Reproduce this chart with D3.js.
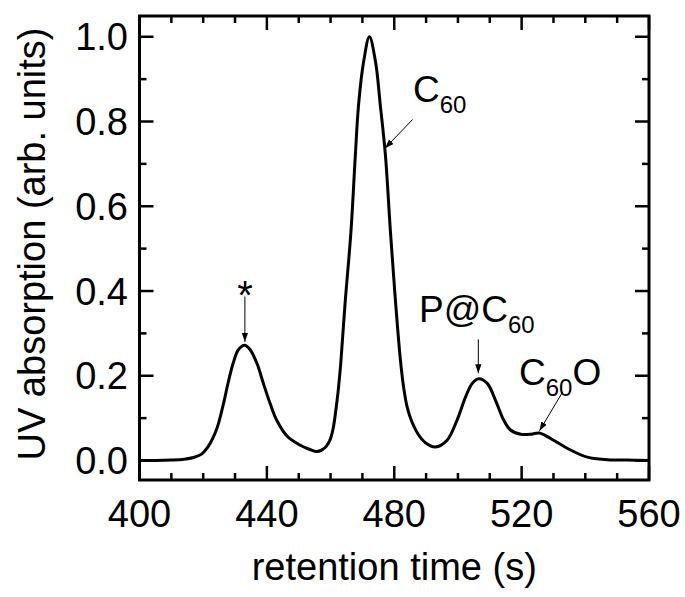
<!DOCTYPE html>
<html>
<head>
<meta charset="utf-8">
<script src="https://cdn.jsdelivr.net/npm/d3@7"></script>
<style>
  body { margin: 0; background: #fff; }
  text { font-family: "Liberation Sans", Arial, Helvetica, sans-serif; fill: #000; }
</style>
</head>
<body>
<div id="chart-area"></div>
<script>
// Chromatogram data
const retentionTime = [400, 405, 410, 414, 417, 419.5, 421.5, 423, 424.5, 426.4, 428, 429.5, 431.1, 433,
    434.7, 436.9, 438.9, 441, 443.1, 446.3, 450.5, 453.5, 455.7, 457.3, 458.7, 459.9, 460.8, 461.6, 462.4,
    463.2, 464.6, 466.4, 467.8, 468.8, 470.4, 472.2, 474.1, 475.6, 477.2, 478.8, 480.3, 481.9, 483, 484,
    485.5, 487.5, 489.8, 492.9, 496.6, 499.7, 502.4, 504.5, 506.5, 509.2, 511.8, 514.4, 516.5, 519.7,
    523, 525.5, 529.1, 534.3, 540.6, 547, 553, 560];
const absorption = [0.000, 0.000, 0.001, 0.003, 0.007, 0.015, 0.032, 0.052, 0.080, 0.135, 0.189, 0.232, 0.262, 0.272,
    0.262, 0.229, 0.182, 0.135, 0.095, 0.058, 0.036, 0.026, 0.021, 0.025, 0.034, 0.050, 0.075, 0.115, 0.165,
    0.229, 0.375, 0.540, 0.723, 0.840, 0.942, 1.000, 0.942, 0.840, 0.723, 0.540, 0.385, 0.240, 0.170, 0.128,
    0.092, 0.062, 0.042, 0.032, 0.048, 0.095, 0.150, 0.182, 0.193, 0.182, 0.142, 0.095, 0.072, 0.062,
    0.062, 0.065, 0.052, 0.029, 0.008, 0.002, 0.001, 0.000];

const xTickLabels = [400, 440, 480, 520, 560];
const yTickLabels = [0.0, 0.2, 0.4, 0.6, 0.8, 1.0];

// peak labels and where their arrows point (data units)
const peakNames = ["C", "*", "P@C", "C"];
const peakSubs = ["60", "", "60", "60"];
const peakTails = ["", "", "", "O"];
const arrowFrom = [[485.8, 0.805], [433.1, 0.387], [506.4, 0.286], [532.9, 0.162]];
const arrowTo = [[477.1, 0.737], [433.1, 0.280], [506.4, 0.206], [525.6, 0.070]];

const width = 685;
const height = 597;
const plot = { left: 139.5, right: 649, top: 16, bottom: 480 };

const svg = d3.select("#chart-area")
    .append("svg")
    .attr("width", width)
    .attr("height", height);

const x = d3.scaleLinear().domain([400, 560]).range([plot.left, plot.right]);
const y = d3.scaleLinear().domain([-0.046, 1.049]).range([plot.bottom, plot.top]);

// arrow head marker
svg.append("defs").append("marker")
    .attr("id", "arrow")
    .attr("viewBox", "0 0 10 10")
    .attr("refX", 10).attr("refY", 5)
    .attr("markerWidth", 9).attr("markerHeight", 9)
    .attr("markerUnits", "userSpaceOnUse")
    .attr("orient", "auto")
    .append("path")
    .attr("d", "M0,1.5 L10,5 L0,8.5 Z")
    .attr("fill", "#000");

// ticks: minor every 10 s / 0.1, major every 40 s / 0.2, all pointing inward
const xMinor = d3.range(400, 561, 10);
const yMinor = d3.range(0, 1.01, 0.1);

const ticks = svg.append("g").attr("stroke", "#000").attr("stroke-width", 2.5);
xMinor.forEach(v => {
    const len = v % 40 === 0 ? 14 : 7;
    ticks.append("line").attr("x1", x(v)).attr("x2", x(v)).attr("y1", plot.bottom).attr("y2", plot.bottom - len);
    ticks.append("line").attr("x1", x(v)).attr("x2", x(v)).attr("y1", plot.top).attr("y2", plot.top + len);
});
yMinor.forEach((v, i) => {
    const len = i % 2 === 0 ? 14 : 7;
    ticks.append("line").attr("x1", plot.left).attr("x2", plot.left + len).attr("y1", y(v)).attr("y2", y(v));
    ticks.append("line").attr("x1", plot.right).attr("x2", plot.right - len).attr("y1", y(v)).attr("y2", y(v));
});

// frame
svg.append("rect")
    .attr("x", plot.left).attr("y", plot.top)
    .attr("width", plot.right - plot.left).attr("height", plot.bottom - plot.top)
    .attr("fill", "none").attr("stroke", "#000").attr("stroke-width", 3);

// tick labels
svg.selectAll(".x-label")
    .data(xTickLabels)
    .enter().append("text")
    .attr("class", "x-label")
    .attr("x", d => x(d))
    .attr("y", 527)
    .attr("text-anchor", "middle")
    .style("font-size", "38px")
    .text(d => d);

svg.selectAll(".y-label")
    .data(yTickLabels)
    .enter().append("text")
    .attr("class", "y-label")
    .attr("x", 128)
    .attr("y", d => y(d))
    .attr("dy", "0.36em")
    .attr("text-anchor", "end")
    .style("font-size", "38px")
    .text(d => d.toFixed(1));

// axis titles
svg.append("text")
    .attr("x", (plot.left + plot.right) / 2)
    .attr("y", 580)
    .attr("text-anchor", "middle")
    .style("font-size", "38px")
    .text("retention time (s)");

svg.append("text")
    .attr("transform", `translate(45, ${(plot.top + plot.bottom) / 2 - 4}) rotate(-90)`)
    .attr("text-anchor", "middle")
    .style("font-size", "38px")
    .text("UV absorption (arb. units)");

// curve
const points = retentionTime.map((t, i) => [t, absorption[i]]);
const line = d3.line()
    .x(d => x(d[0]))
    .y(d => y(d[1]))
    .curve(d3.curveCatmullRom.alpha(0.5));

svg.append("path")
    .datum(points)
    .attr("d", line)
    .attr("fill", "none")
    .attr("stroke", "#000")
    .attr("stroke-width", 3);

// arrows
peakNames.forEach((name, i) => {
    svg.append("line")
        .attr("x1", x(arrowFrom[i][0])).attr("y1", y(arrowFrom[i][1]))
        .attr("x2", x(arrowTo[i][0])).attr("y2", y(arrowTo[i][1]))
        .attr("stroke", "#000")
        .attr("stroke-width", 1)
        .attr("marker-end", "url(#arrow)");
});

// label positions (left edge, baseline) in pixels
const labelPos = [[413, 102], [245, 309], [419, 322], [519, 385]];
peakNames.forEach((name, i) => {
    const t = svg.append("text")
        .attr("x", labelPos[i][0])
        .attr("y", labelPos[i][1])
        .attr("text-anchor", name === "*" ? "middle" : "start")
        .style("font-size", name === "*" ? "40px" : "37px");
    t.append("tspan").text(name);
    if (peakSubs[i]) {
        t.append("tspan").attr("dy", 11).style("font-size", "24px").text(peakSubs[i]);
    }
    if (peakTails[i]) {
        t.append("tspan").attr("dy", -11).text(peakTails[i]);
    }
});
</script>
</body>
</html>
